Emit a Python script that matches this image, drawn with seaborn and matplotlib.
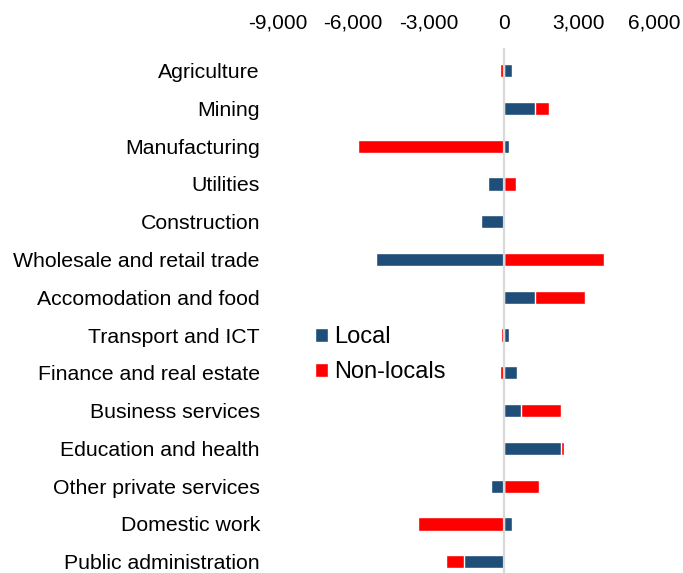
import matplotlib
matplotlib.use("Agg")
import matplotlib.pyplot as plt
import seaborn as sns
import numpy as np
import pandas as pd
from matplotlib.patches import Patch
from matplotlib.ticker import FuncFormatter

categories = ["Agriculture", "Mining", "Manufacturing", "Utilities", "Construction",
              "Wholesale and retail trade", "Accomodation and food", "Transport and ICT",
              "Finance and real estate", "Business services", "Education and health",
              "Other private services", "Domestic work", "Public administration"]
local = [350, 1270, 210, -630, -900, -5090, 1240, 230, 550, 690, 2290, -510, 350, -1570]
nonlocal_ = [-150, 550, -5800, 480, 40, 4010, 2000, -110, -160, 1610, 120, 1400, -3430, -730]
xticks = [-9000, -6000, -3000, 0, 3000, 6000]

BLUE = "#1F4E79"
RED = "#FF0000"

sns.set_theme(style="white")
plt.rcParams['font.family'] = ['Liberation Sans', 'DejaVu Sans']
plt.rcParams['text.color'] = 'black'

loc = np.array(local, dtype=float)
nl = np.array(nonlocal_, dtype=float)
# stacked ends (Excel-style: positives and negatives stack separately)
red_end = np.where(nl >= 0, np.maximum(loc, 0) + nl, np.minimum(loc, 0) + nl)

df = pd.DataFrame({"cat": categories, "local": loc, "red_end": red_end})

fig = plt.figure(figsize=(6.83, 5.73), dpi=100)
ax = fig.add_axes([278 / 683, 0.0, (654 - 278) / 683, 1 - 48 / 573])

sns.barplot(data=df, y="cat", x="red_end", orient="h", color=RED, width=0.35,
            saturation=1, ax=ax, zorder=2)
sns.barplot(data=df, y="cat", x="local", orient="h", color=BLUE, width=0.35,
            saturation=1, ax=ax, zorder=3)

ax.axvline(0, color="#D9D9D9", lw=1.6, zorder=4)
ax.set_xlim(-9000, 6000)
ax.set_ylim(13.3, -0.6)
ax.set_xticks(xticks)
ax.xaxis.set_major_formatter(FuncFormatter(lambda v, p: f"{int(v):,}"))
ax.xaxis.tick_top()
ax.tick_params(axis="x", length=0, pad=11, labelsize=15, colors="black")
ax.tick_params(axis="y", length=0, pad=13, labelsize=15.3, colors="black")
ax.set_xlabel("")
ax.set_ylabel("")
for s in ax.spines.values():
    s.set_visible(False)
ax.grid(False)

handles = [Patch(facecolor=BLUE, label="Local"), Patch(facecolor=RED, label="Non-locals")]
fig.legend(handles=handles, loc="upper left", bbox_to_anchor=(315 / 683, 1 - 326 / 573),
           frameon=False, fontsize=17, handlelength=0.55, handleheight=0.55,
           handletextpad=0.25, labelspacing=0.55, borderpad=0, borderaxespad=0,
           labelcolor="black")

fig.savefig("out.png", dpi=100)
